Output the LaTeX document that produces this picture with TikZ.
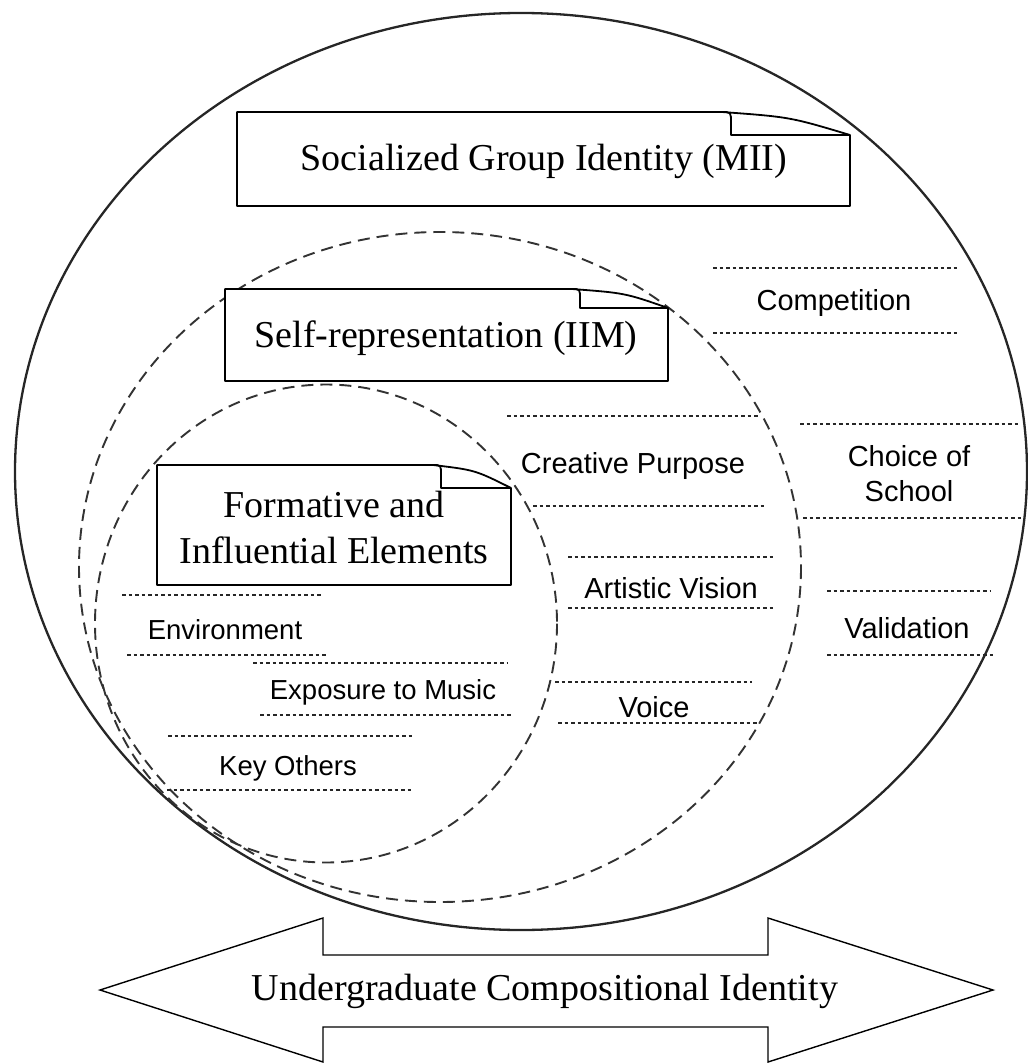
\documentclass[tikz,border=0pt]{standalone}
\usepackage{fontspec}
\setmainfont{Liberation Serif}
\setsansfont{Liberation Sans}
\usepackage{tikz}
\usetikzlibrary{positioning, calc}

\begin{document}
\begin{tikzpicture}[x=1pt, y=-1pt,
		outer/.style={line width=2.3pt, black!85},
		ring/.style={line width=1.9pt, black!80, dash pattern=on 12pt off 7pt},
		boxline/.style={line width=1.8pt, fill=white, line join=round},
		heading/.style={font=\fontsize{38}{46}\selectfont, align=center},
		rule/.style={line width=1.1pt, black!85, dash pattern=on 3.5pt off 3pt},
		item/.style={font=\sffamily\fontsize{29}{35}\selectfont, align=center},
		initem/.style={font=\sffamily\fontsize{27.5}{33}\selectfont, align=center},
		bigarrow/.style={line width=1.4pt, line join=miter}
		]
		\useasboundingbox (0,0) rectangle (1027,1064);
		
		% ----- Nested identity regions -----
		\draw[outer] (521,471.5) ellipse [x radius=506, y radius=458.5];
		\draw[ring] (440,567) ellipse [x radius=361, y radius=335];
		\draw[ring] (326,623.5) ellipse [x radius=231, y radius=239];
		
		% ----- Outer ring items -----
		\draw[rule] (713,268) -- (958,268);
		\node[item] (comp) at (834,303) {Competition};
		\draw[rule] (713,333) -- (958,333);
		
		\draw[rule] (800,424) -- (1021,424);
		\node[item] (school) at (909,474) {Choice of\\School};
		\draw[rule] (803,518) -- (1023,518);
		
		\draw[rule] (827,591) -- (990,591);
		\node[item] (valid) at (907,628) {Validation};
		\draw[rule] (827,655) -- (993,655);
		
		% ----- Middle ring items -----
		\draw[rule] (507,416) -- (758,416);
		\node[item] (purpose) at (633,466) {Creative Purpose};
		\draw[rule] (533,506) -- (765,506);
		
		\draw[rule] (568,557) -- (775,557);
		\node[item] (vision) at (671,588) {Artistic Vision};
		\draw[rule] (568,608) -- (775,608);
		
		\draw[rule] (555,682) -- (752,682);
		\node[item] (voice) at (654,707) {Voice};
		\draw[rule] (558,723) -- (757,723);
		
		% ----- Inner ring items -----
		\draw[rule] (122,595) -- (322,595);
		\node[initem] (env) at (225,630) {Environment};
		\draw[rule] (127,655) -- (328,655);
		
		\draw[rule] (253,663) -- (507,663);
		\node[initem] (music) at (383,692) {Exposure to Music};
		\draw[rule] (260,715) -- (512,715);
		
		\draw[rule] (168,736) -- (412,736);
		\node[initem] (others) at (288,768) {Key Others};
		\draw[rule] (167,790) -- (412,790);
		
		% ----- Folded labels -----
		\draw[boxline] (237,206) -- (237,112) -- (722,112) .. controls (731,112) .. (731,123) -- (731,135) -- (850,135) -- (850,206) -- cycle;
		\draw[boxline, fill=none] (722,112) .. controls (790,117) .. (850,135);
		\node[heading] (social) at (544,161) {Socialized Group Identity (MII)};
		
		\draw[boxline] (225,381) -- (225,289) -- (572,289) .. controls (580,289) .. (580,299) -- (580,308) -- (668,308) -- (668,381) -- cycle;
		\draw[boxline, fill=none] (572,289) .. controls (625,293) .. (668,308);
		\node[heading] (selfrep) at (446,338) {Self-representation (IIM)};
		
		\draw[boxline] (157,585) -- (157,465) -- (433,465) .. controls (441,465) .. (441,475) -- (441,488) -- (511,488) -- (511,585) -- cycle;
		\draw[boxline, fill=none] (433,465) .. controls (475,470) .. (511,488);
		\node[heading] (formative) at (334,527) {Formative and\\Influential Elements};
		
		% ----- Double arrow -----
		\draw[bigarrow] (100,990) -- (323,918) -- (323,955) -- (768,955) -- (768,918) -- (993,990)
			-- (768,1062) -- (768,1027) -- (323,1027) -- (323,1062) -- cycle;
		\node[heading] (ugci) at (545,991) {Undergraduate Compositional Identity};
		
	\end{tikzpicture}
\end{document}
